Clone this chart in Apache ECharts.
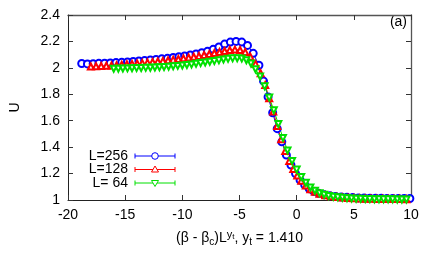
<!DOCTYPE html>
<html><head><meta charset="utf-8">
<script src="https://cdn.jsdelivr.net/npm/echarts@6/dist/echarts.min.js"></script>
<style>html,body{margin:0;padding:0;background:#fff}#c{width:436px;height:262px}</style>
</head><body><div id="c"></div>
<script>
const xTicks = [-20, -15, -10, -5, 0, 5, 10];
const yTicks = [1, 1.2, 1.4, 1.6, 1.8, 2, 2.2, 2.4];
const seriesNames = ['L=256', 'L=128', 'L= 64'];

const dataL256 = [
  [-18.8,2.033],[-18.3,2.030],[-17.8,2.032],[-17.3,2.034],[-16.8,2.035],[-16.3,2.037],[-15.8,2.040],[-15.3,2.042],
  [-14.8,2.045],[-14.3,2.048],[-13.8,2.052],[-13.3,2.055],[-12.8,2.060],[-12.3,2.064],[-11.8,2.068],[-11.3,2.072],
  [-10.8,2.078],[-10.3,2.085],[-9.8,2.090],[-9.3,2.097],[-8.8,2.105],[-8.3,2.115],[-7.8,2.125],[-7.3,2.140],
  [-6.8,2.158],[-6.3,2.180],[-5.8,2.195],[-5.3,2.200],[-4.8,2.195],[-4.3,2.170],[-3.8,2.110],[-3.3,2.020],
  [-2.9,1.900],[-2.5,1.780],[-2.1,1.660],[-1.7,1.540],[-1.3,1.440],[-0.9,1.340],[-0.5,1.265],[-0.1,1.200],
  [0.3,1.150],[0.7,1.115],[1.1,1.085],[1.5,1.065],[1.9,1.052],[2.4,1.040],[2.9,1.032],[3.4,1.027],
  [3.9,1.023],[4.4,1.020],[4.9,1.018],[5.4,1.016],[5.9,1.015],[6.4,1.014],[6.9,1.013],[7.4,1.013],
  [7.9,1.012],[8.4,1.012],[8.9,1.011],[9.4,1.011],[9.9,1.011]
];
const dataL128 = [
  [-18.0,2.010],[-17.55,2.012],[-17.1,2.014],[-16.65,2.016],[-16.2,2.018],[-15.75,2.020],[-15.3,2.024],[-14.85,2.027],
  [-14.4,2.030],[-13.95,2.033],[-13.5,2.036],[-13.05,2.040],[-12.6,2.044],[-12.15,2.048],[-11.7,2.052],[-11.25,2.057],
  [-10.8,2.062],[-10.35,2.067],[-9.9,2.072],[-9.45,2.078],[-9.0,2.084],[-8.55,2.090],[-8.1,2.097],[-7.65,2.104],
  [-7.2,2.112],[-6.75,2.120],[-6.3,2.128],[-5.85,2.135],[-5.4,2.138],[-4.95,2.135],[-4.5,2.120],[-4.05,2.085],
  [-3.6,2.030],[-3.15,1.960],[-2.75,1.870],[-2.4,1.770],[-2.05,1.670],[-1.7,1.560],[-1.35,1.460],[-1.0,1.370],
  [-0.65,1.295],[-0.3,1.235],[0.05,1.185],[0.4,1.145],[0.8,1.110],[1.2,1.082],[1.6,1.062],[2.0,1.048],
  [2.5,1.036],[3.0,1.028],[3.5,1.022],[4.0,1.018],[4.5,1.015],[5.0,1.013],[5.5,1.011],[6.0,1.010],
  [6.5,1.009],[7.0,1.008],[7.5,1.008],[8.0,1.007],[8.5,1.007],[9.0,1.007],[9.6,1.006]
];
const dataL64 = [
  [-16.0,1.993],[-15.6,1.994],[-15.2,1.995],[-14.8,1.996],[-14.4,1.997],[-14.0,1.998],[-13.6,1.999],[-13.2,2.000],
  [-12.8,2.001],[-12.4,2.003],[-12.0,2.005],[-11.6,2.007],[-11.2,2.009],[-10.8,2.012],[-10.4,2.015],[-10.0,2.018],
  [-9.6,2.022],[-9.2,2.026],[-8.8,2.031],[-8.4,2.036],[-8.0,2.041],[-7.6,2.046],[-7.2,2.051],[-6.8,2.057],
  [-6.4,2.063],[-6.0,2.068],[-5.6,2.072],[-5.2,2.073],[-4.8,2.070],[-4.4,2.058],[-4.0,2.033],[-3.6,1.990],
  [-3.2,1.935],[-2.8,1.860],[-2.4,1.775],[-2.0,1.680],[-1.6,1.575],[-1.2,1.470],[-0.8,1.375],[-0.4,1.295],
  [0.0,1.230],[0.4,1.175],[0.8,1.130],[1.2,1.095],[1.6,1.070],[2.0,1.052],[2.4,1.040],[2.8,1.031],
  [3.2,1.025],[3.6,1.020],[4.0,1.017],[4.4,1.014],[4.8,1.012],[5.2,1.010],[5.6,1.009],[6.0,1.008],
  [6.4,1.007],[6.8,1.006],[7.2,1.006],[7.6,1.005],[8.0,1.005],[8.4,1.005],[8.8,1.004],[9.2,1.004],[9.6,1.004]
];

const colors = ['#0000ff', '#ff0000', '#00e000'];
const FONT = '"Liberation Sans", Arial, sans-serif';
const FS = 14;

const chart = echarts.init(document.getElementById('c'), null, {renderer: 'canvas'});
const axLine = {show: true, onZero: false, lineStyle: {color: '#222', width: 1}};
const axLine2 = {show: true, onZero: false, lineStyle: {color: '#555', width: 1.3}};
const tick = {show: true, inside: true, length: 5, lineStyle: {color: '#333'}};
const lbl = {color: '#000', fontSize: FS, fontFamily: FONT};

function mkSeries(name, data, color, symbol, size, rotate) {
  return {
    name: name, type: 'line', data: data, xAxisIndex: 0, yAxisIndex: 0,
    symbol: symbol, symbolSize: size, symbolRotate: rotate || 0,
    showAllSymbol: true,
    lineStyle: {color: color, width: 1},
    itemStyle: {color: color, borderColor: color, borderWidth: 1},
    emphasis: {disabled: true}, animation: false
  };
}

// legend (decoration)
const legY = [156, 169.5, 183];
const legend = [];
const legSyms = ['circle', 'up', 'down'];
for (let i = 0; i < 3; i++) {
  const y = legY[i], c = colors[i];
  legend.push({type: 'text', x: 128, y: y,
    style: {text: seriesNames[i], fill: '#000', font: FS + 'px ' + FONT, textAlign: 'right', textVerticalAlign: 'middle'}});
  legend.push({type: 'line', shape: {x1: 135, y1: y, x2: 175, y2: y}, style: {stroke: c, lineWidth: 1}});
  legend.push({type: 'line', shape: {x1: 135, y1: y - 2.5, x2: 135, y2: y + 2.5}, style: {stroke: c, lineWidth: 1}});
  legend.push({type: 'line', shape: {x1: 175, y1: y - 2.5, x2: 175, y2: y + 2.5}, style: {stroke: c, lineWidth: 1}});
  if (legSyms[i] === 'circle') {
    legend.push({type: 'circle', shape: {cx: 155, cy: y, r: 3.3}, style: {fill: '#fff', stroke: c, lineWidth: 1}});
  } else if (legSyms[i] === 'up') {
    legend.push({type: 'polygon', shape: {points: [[155, y - 3.5], [151.5, y + 2.5], [158.5, y + 2.5]]}, style: {fill: '#fff', stroke: c, lineWidth: 1}});
  } else {
    legend.push({type: 'polygon', shape: {points: [[155, y + 3.5], [151.5, y - 2.5], [158.5, y - 2.5]]}, style: {fill: '#fff', stroke: c, lineWidth: 1}});
  }
}

const option = {
  animation: false,
  backgroundColor: '#fff',
  grid: {left: 67, right: 25, top: 15, bottom: 62, containLabel: false},
  xAxis: [
    {type: 'value', min: xTicks[0], max: xTicks[xTicks.length - 1], interval: 5, position: 'bottom',
     axisLine: axLine, axisTick: tick, splitLine: {show: false},
     axisLabel: Object.assign({margin: 8}, lbl),
     name: '(β - β{sub|c})L{sup|y}{supsub|t}, y{sub|t} = 1.410', nameLocation: 'middle', nameGap: 29,
     nameTextStyle: {color: '#000', fontSize: FS, fontFamily: FONT, lineHeight: 18,
       rich: {
         sub: {fontSize: 10, fontFamily: FONT, color: '#000', verticalAlign: 'bottom', lineHeight: 12},
         sup: {fontSize: 11, fontFamily: FONT, color: '#000', verticalAlign: 'top', lineHeight: 12},
         supsub: {fontSize: 8, fontFamily: FONT, color: '#000', verticalAlign: 'top', lineHeight: 16, padding: [4, 0, 0, 0]}
       }}},
    {type: 'value', min: xTicks[0], max: xTicks[xTicks.length - 1], interval: 5, position: 'top',
     axisLine: axLine2, axisTick: tick, axisLabel: {show: false}, splitLine: {show: false}}
  ],
  yAxis: [
    {type: 'value', min: yTicks[0], max: yTicks[yTicks.length - 1], interval: 0.2, position: 'left',
     axisLine: axLine, axisTick: tick, splitLine: {show: false},
     axisLabel: Object.assign({margin: 8, formatter: v => String(+v.toFixed(1))}, lbl),
     name: 'U', nameLocation: 'middle', nameGap: 46, nameRotate: 90,
     nameTextStyle: {color: '#000', fontSize: FS, fontFamily: FONT}},
    {type: 'value', min: yTicks[0], max: yTicks[yTicks.length - 1], interval: 0.2, position: 'right',
     axisLine: axLine2, axisTick: tick, axisLabel: {show: false}, splitLine: {show: false}}
  ],
  series: [
    mkSeries(seriesNames[0], dataL256, colors[0], 'emptyCircle', 7, 0),
    mkSeries(seriesNames[1], dataL128, colors[1], 'emptyTriangle', 6, 0),
    mkSeries(seriesNames[2], dataL64, colors[2], 'emptyTriangle', 6, 180)
  ],
  graphic: legend.concat([
    {type: 'text', x: 407, y: 22.5, style: {text: '(a)', fill: '#000', font: FS + 'px ' + FONT, textAlign: 'right', textVerticalAlign: 'middle'}}
  ])
};
chart.setOption(option);
</script></body></html>
